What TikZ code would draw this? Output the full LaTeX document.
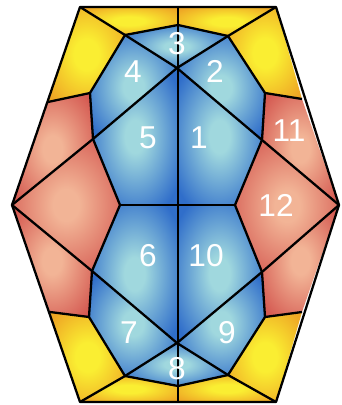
\documentclass[tikz,border=0pt]{standalone}
\usepackage{fontspec}
\newfontfamily\numfont{Liberation Sans}
\definecolor{yelIn}{RGB}{250,238,50}
\definecolor{yelOut}{RGB}{238,165,36}
\definecolor{redIn}{RGB}{242,180,150}
\definecolor{redOut}{RGB}{212,88,80}
\definecolor{bluIn}{RGB}{160,216,222}
\definecolor{bluOut}{RGB}{48,110,202}
\pgfdeclareradialshading{yelshade}{\pgfpoint{0bp}{0bp}}{color(0bp)=(yelIn); color(8bp)=(yelIn); color(32bp)=(yelOut); color(50bp)=(yelOut)}
\pgfdeclareradialshading{redshade}{\pgfpoint{0bp}{0bp}}{color(0bp)=(redIn); color(6bp)=(redIn); color(32bp)=(redOut); color(50bp)=(redOut)}
\pgfdeclareradialshading{blushade}{\pgfpoint{0bp}{0bp}}{color(0bp)=(bluIn); color(6bp)=(bluIn); color(31bp)=(bluOut); color(50bp)=(bluOut)}
\begin{document}
\begin{tikzpicture}[x=0.02cm, y=-0.02cm,
  yelpatch/.style={shading=yelshade},
  redpatch/.style={shading=redshade},
  blupatch/.style={shading=blushade},
  edge/.style={line width=1.3pt, line join=round},
  num/.style={text=white, font=\numfont\fontsize{18}{18}\selectfont}]
  \useasboundingbox (0,0) rectangle (341,405);

  % outer hexagon
  \coordinate (TL) at (80,7);   \coordinate (TM) at (178,7);   \coordinate (TR) at (276,7);
  \coordinate (L) at (12,205);  \coordinate (R) at (339,205);
  \coordinate (BL) at (80,402); \coordinate (BM) at (178,402); \coordinate (BR) at (276,402);
  \coordinate (yl1) at (48,102); \coordinate (yr1) at (302,99);
  \coordinate (yl2) at (50,312); \coordinate (yr2) at (302,312);

  % blue body
  \coordinate (a3l) at (125,35); \coordinate (a3m) at (178,25); \coordinate (a3r) at (228,36);
  \coordinate (cu) at (177,68);  \coordinate (cl) at (177,343);
  \coordinate (a8l) at (125,376); \coordinate (a8m) at (178,386); \coordinate (a8r) at (228,375);
  \coordinate (bl1) at (90,93);  \coordinate (br1) at (265,93);
  \coordinate (bl2) at (93,139); \coordinate (br2) at (262,140);
  \coordinate (ml) at (120,205); \coordinate (mm) at (177,205); \coordinate (mr) at (235,205);
  \coordinate (bl3) at (92,271); \coordinate (br3) at (262,272);
  \coordinate (bl4) at (89,317); \coordinate (br4) at (265,317);

  % yellow patches
  \shade[yelpatch] (TL) -- (a3l) -- (bl1) -- (yl1) -- cycle;
  \shade[yelpatch] (TL) -- (TM) -- (a3m) -- (a3l) -- cycle;
  \shade[yelpatch] (TM) -- (TR) -- (a3r) -- (a3m) -- cycle;
  \shade[yelpatch] (TR) -- (yr1) -- (br1) -- (a3r) -- cycle;
  \shade[yelpatch] (BL) -- (a8l) -- (bl4) -- (yl2) -- cycle;
  \shade[yelpatch] (BL) -- (BM) -- (a8m) -- (a8l) -- cycle;
  \shade[yelpatch] (BM) -- (BR) -- (a8r) -- (a8m) -- cycle;
  \shade[yelpatch] (BR) -- (yr2) -- (br4) -- (a8r) -- cycle;

  % red patches
  \shade[redpatch] (yl1) -- (bl1) -- (bl2) -- (L) -- cycle;
  \shade[redpatch] (L) -- (bl2) -- (ml) -- (bl3) -- cycle;
  \shade[redpatch] (L) -- (bl3) -- (bl4) -- (yl2) -- cycle;
  \shade[redpatch] (yr1) -- (br1) -- (br2) -- (R) -- cycle;
  \shade[redpatch] (R) -- (br2) -- (mr) -- (br3) -- cycle;
  \shade[redpatch] (R) -- (br3) -- (br4) -- (yr2) -- cycle;

  % blue patches
  \shade[blupatch] (a3l) -- (a3m) -- (a3r) -- (cu) -- cycle;
  \shade[blupatch] (a3l) -- (cu) -- (bl2) -- (bl1) -- cycle;
  \shade[blupatch] (a3r) -- (br1) -- (br2) -- (cu) -- cycle;
  \shade[blupatch] (cu) -- (mm) -- (ml) -- (bl2) -- cycle;
  \shade[blupatch] (cu) -- (br2) -- (mr) -- (mm) -- cycle;
  \shade[blupatch] (mm) -- (cl) -- (bl3) -- (ml) -- cycle;
  \shade[blupatch] (mm) -- (mr) -- (br3) -- (cl) -- cycle;
  \shade[blupatch] (bl3) -- (cl) -- (a8l) -- (bl4) -- cycle;
  \shade[blupatch] (br3) -- (br4) -- (a8r) -- (cl) -- cycle;
  \shade[blupatch] (cl) -- (a8r) -- (a8m) -- (a8l) -- cycle;

  % outlines
  \draw[edge] (TL) -- (TR) -- (R) -- (BR) -- (BL) -- (L) -- cycle;
  \draw[edge] (TM) -- (BM);
  \draw[edge] (yl1) -- (bl1) -- (a3l) -- (a3m) -- (a3r) -- (br1) -- (yr1);
  \draw[edge] (yl2) -- (bl4) -- (a8l) -- (a8m) -- (a8r) -- (br4) -- (yr2);
  \draw[edge] (bl1) -- (bl2) -- (ml) -- (bl3) -- (bl4);
  \draw[edge] (br1) -- (br2) -- (mr) -- (br3) -- (br4);
  \draw[edge] (ml) -- (mr);

  % diagonals
  \draw[edge] (TL) -- (a3l) -- (cu) -- (br2) -- (R);
  \draw[edge] (TR) -- (a3r) -- (cu) -- (bl2) -- (L);
  \draw[edge] (BL) -- (a8l) -- (cl) -- (br3) -- (R);
  \draw[edge] (BR) -- (a8r) -- (cl) -- (bl3) -- (L);

  % labels
  \node[num] (n1) at (199,138) {1};
  \node[num] (n2) at (215,71) {2};
  \node[num] (n3) at (177,44) {3};
  \node[num] (n4) at (133,72) {4};
  \node[num] (n5) at (148,138) {5};
  \node[num] (n6) at (148,256) {6};
  \node[num] (n7) at (129,333) {7};
  \node[num] (n8) at (177,369) {8};
  \node[num] (n9) at (227,333) {9};
  \node[num] (n10) at (206,256) {10};
  \node[num] (n11) at (289,131) {11};
  \node[num] (n12) at (276,205) {12};
\end{tikzpicture}
\end{document}
